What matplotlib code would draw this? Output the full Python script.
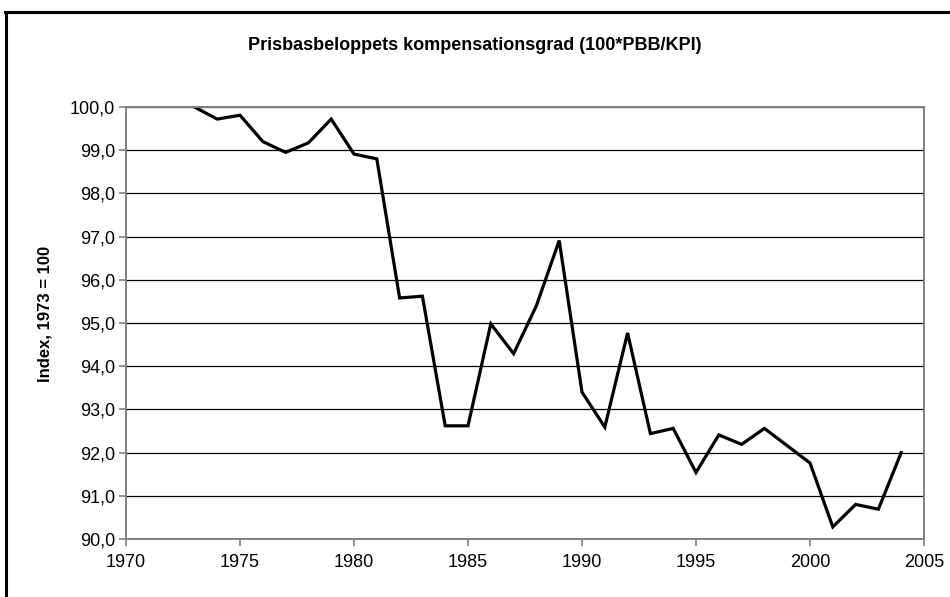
import matplotlib
matplotlib.use("Agg")
import matplotlib.pyplot as plt
from matplotlib.lines import Line2D
from matplotlib.ticker import FuncFormatter

# ----------------------------
# Data
# ----------------------------
years = list(range(1973, 2005))
index = [100.0, 99.72, 99.81, 99.20, 98.95, 99.17, 99.72, 98.91, 98.80, 95.58,
         95.62, 92.62, 92.62, 94.98, 94.29, 95.40, 96.91, 93.40, 92.59, 94.77,
         92.44, 92.56, 91.54, 92.41, 92.19, 92.56, 92.16, 91.76, 90.28, 90.80,
         90.69, 92.00]

title = "Prisbasbeloppets kompensationsgrad (100*PBB/KPI)"
ylabel = "Index, 1973 = 100"

plt.rcParams.update({
    "font.family": ["Liberation Sans", "DejaVu Sans"],
    "font.size": 13,
})

fig = plt.figure(figsize=(9.5, 5.97), dpi=100)
ax = fig.add_axes([126 / 950, 1 - 539 / 597, (924 - 126) / 950, (539 - 107) / 597])

ax.plot(years, index, color="black", linewidth=2.3, solid_joinstyle="miter")

ax.set_xlim(1970, 2005)
ax.set_ylim(90, 100)
ax.set_xticks(range(1970, 2006, 5))
ax.set_yticks(range(90, 101))
ax.yaxis.set_major_formatter(FuncFormatter(lambda v, p: f"{v:.1f}".replace(".", ",")))

ax.grid(axis="y", color="black", linewidth=0.9)
ax.set_axisbelow(True)
for side, sp in ax.spines.items():
    sp.set_color("#808080")
    sp.set_linewidth(1.4)
ax.tick_params(axis="both", direction="out", length=5, color="#808080", width=1.2,
               labelsize=13, pad=3)
ax.tick_params(axis="x", pad=6)

ax.set_ylabel(ylabel, fontweight="bold", fontsize=12)
ax.yaxis.set_label_coords(-0.0915, 0.52)
fig.text(0.5, 1 - 45 / 597, title, ha="center", va="center",
         fontweight="bold", fontsize=13)

# outer frame (top and left edges visible)
fig.add_artist(Line2D([6 / 950, 6 / 950], [0, 1 - 11.5 / 597], color="black",
                      linewidth=2.2, transform=fig.transFigure))
fig.add_artist(Line2D([5 / 950, 1], [1 - 11.5 / 597, 1 - 11.5 / 597], color="black",
                      linewidth=2.2, transform=fig.transFigure))

fig.savefig("out.png", dpi=100, facecolor="white")
